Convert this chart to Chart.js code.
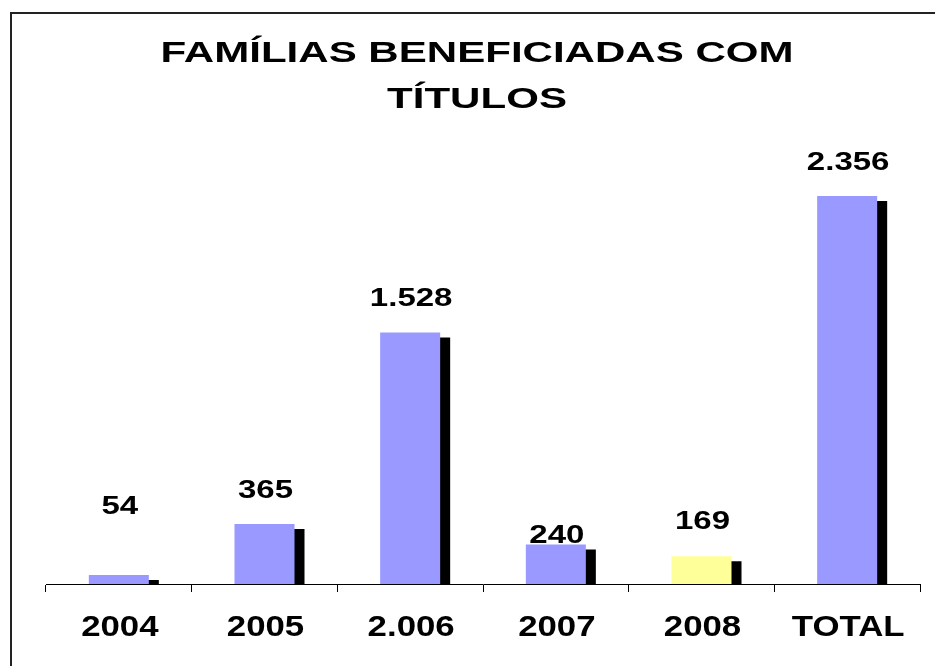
<!DOCTYPE html>
<html>
<head>
<meta charset="utf-8">
<script src="https://cdn.jsdelivr.net/npm/chart.js@4"></script>
<style>
  html, body { margin: 0; padding: 0; background: #fff; overflow: hidden; }
  #wrap { position: relative; width: 935px; height: 666px; }
  #frame { position: absolute; left: 10px; top: 12px; width: 1000px; height: 1000px;
           border-left: 2px solid #222; border-top: 2px solid #222; }
  canvas { position: absolute; left: 0; top: 0; }
</style>
</head>
<body>
<div id="wrap">
  <div id="frame"></div>
  <canvas id="familias" width="935" height="666"></canvas>
</div>
<script>
// Famílias beneficiadas com títulos
const categories = ["2004", "2005", "2.006", "2007", "2008", "TOTAL"];
const familias = [54, 365, 1528, 240, 169, 2356];
const barColors = ["#9999ff", "#9999ff", "#9999ff", "#9999ff", "#ffff99", "#9999ff"];
const titleLines = ["FAMÍLIAS BENEFICIADAS COM", "TÍTULOS"];
// gap between bar top and label baseline, as placed in the original
const labelGap = [61, 26, 26, 1, 27, 26];

function fmt(n) {
  return String(n).replace(/\B(?=(\d{3})+(?!\d))/g, ".");
}

// text in the original is stretched sideways
function wideText(ctx, text, x, y, size, sx) {
  ctx.save();
  ctx.font = "bold " + size + "px 'Liberation Sans', Arial, sans-serif";
  ctx.fillStyle = "#000";
  ctx.textAlign = "center";
  ctx.textBaseline = "alphabetic";
  ctx.translate(x, y);
  ctx.scale(sx, 1);
  ctx.fillText(text, 0, 0);
  ctx.restore();
}

const barShadow = {
  id: "barShadow",
  beforeDatasetsDraw(chart) {
    const ctx = chart.ctx;
    ctx.save();
    ctx.shadowColor = "#000";
    ctx.shadowOffsetX = 10;
    ctx.shadowOffsetY = 5;
    ctx.shadowBlur = 0;
  },
  afterDatasetsDraw(chart) {
    chart.ctx.restore();
  }
};

const texts = {
  id: "texts",
  afterDraw(chart) {
    const ctx = chart.ctx;
    wideText(ctx, titleLines[0], 477, 62, 29, 1.45);
    wideText(ctx, titleLines[1], 477, 108, 29, 1.45);
    const x = chart.scales.x, y = chart.scales.y;
    categories.forEach((c, i) => {
      wideText(ctx, c, x.getPixelForValue(i) + 1, 636, 29, 1.2);
    });
    familias.forEach((v, i) => {
      wideText(ctx, fmt(v), x.getPixelForValue(i) + 1, y.getPixelForValue(v) - labelGap[i], 26, 1.27);
    });
  }
};

new Chart(document.getElementById("familias"), {
  type: "bar",
  data: {
    labels: categories,
    datasets: [{
      data: familias,
      backgroundColor: barColors,
      borderWidth: 0,
      categoryPercentage: 1,
      barPercentage: 0.412,
      clip: 0
    }]
  },
  options: {
    responsive: false,
    animation: false,
    layout: { padding: { top: 90, left: 46, right: 15, bottom: 74 } },
    plugins: {
      legend: { display: false },
      tooltip: { enabled: false }
    },
    scales: {
      x: {
        grid: { offset: true, drawOnChartArea: false, tickLength: 8, color: "#000", lineWidth: 1 },
        border: { color: "#000", width: 1 },
        ticks: { display: false }
      },
      y: {
        display: false,
        min: 0,
        max: 3000
      }
    }
  },
  plugins: [barShadow, texts]
});
</script>
</body>
</html>
